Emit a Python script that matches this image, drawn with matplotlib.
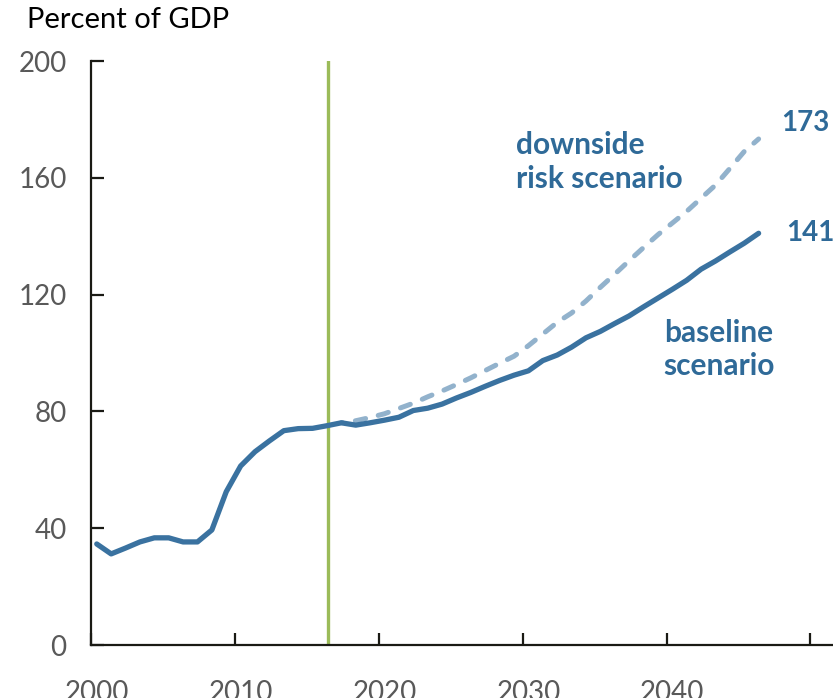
import matplotlib
matplotlib.use("Agg")
import matplotlib.pyplot as plt
import numpy as np

years_base = list(range(2000, 2047))
baseline = [34.6, 31.2, 33.2, 35.3, 36.7, 36.7, 35.3, 35.3, 39.4, 52.5,
            61.3, 66.2, 69.9, 73.4, 74.1, 74.2, 75.1, 76.1, 75.3, 76.1,
            77.0, 78.0, 80.3, 81.1, 82.5, 84.6, 86.5, 88.6, 90.6, 92.4,
            93.9, 97.4, 99.3, 102.0, 105.2, 107.4, 110.1, 112.7, 115.8, 118.8,
            121.8, 124.9, 128.7, 131.5, 134.6, 137.6, 141.0]

years_down = list(range(2017, 2047))
downside = [76.1, 76.8, 77.9, 79.2, 81.0, 82.8, 85.0, 87.0, 89.2, 91.5,
            94.0, 96.5, 98.9, 102.5, 106.5, 110.5, 113.7, 117.8, 122.5, 127.0,
            131.6, 136.1, 140.5, 144.5, 148.5, 153.0, 157.5, 163.2, 169.0, 173.3]

tick_years = [2000, 2010, 2020, 2030, 2040]
y_ticks = [0, 40, 80, 120, 160, 200]
projection_start = 2016.05

plt.rcParams['font.family'] = ['Lato', 'DejaVu Sans']

DPI = 100
fig = plt.figure(figsize=(8.33, 6.98), dpi=DPI)
ax = fig.add_axes([91/833, 53/698, (833-92)/833, 584/698])

c_base = '#3A72A0'
c_down = '#92B2CC'
c_green = '#9BBB59'
c_text = '#2F6A98'

ax.set_ylim(0, 200)
ax.set_xlim(1999.6, 2051.1)

# dash pattern arranged so that the dashed line ends on a dash
lw_down = 3.6
on, off = 2.1 * lw_down, 2.6 * lw_down
pts = ax.transData.transform(np.column_stack([years_down, downside]))
L = np.sum(np.hypot(*np.diff(pts, axis=0).T)) * 72 / DPI
period = on + off
offset = ((on * 0.6 - L) % period) / lw_down

ax.axvline(projection_start, color=c_green, lw=2.4, zorder=1)
ax.plot(years_down, downside, color=c_down, lw=lw_down, ls=(offset, (2.1, 2.6)),
        solid_capstyle='round', dash_capstyle='round', zorder=2)
ax.plot(years_base, baseline, color=c_base, lw=3.8, solid_capstyle='round', zorder=3)

ax.set_yticks(y_ticks)
ax.set_yticklabels([str(v) for v in y_ticks])
# tick marks at category boundaries, labels at years
ax.set_xticks([t - 0.4 for t in tick_years] + [2049.6])
ax.set_xticklabels([])
ax.set_xticks(tick_years, minor=True)
ax.set_xticklabels([str(t) for t in tick_years], minor=True)

for s in ['top', 'right']:
    ax.spines[s].set_visible(False)
for s in ['left', 'bottom']:
    ax.spines[s].set_color('#1a1a14')
    ax.spines[s].set_linewidth(1.6)

ax.tick_params(axis='y', direction='in', length=9, width=1.6, colors='#1a1a14',
               labelcolor='#595959', labelsize=20, pad=17.5)
ax.tick_params(axis='x', which='major', direction='in', length=9, width=1.6, colors='#1a1a14')
ax.tick_params(axis='x', which='minor', length=0, labelcolor='#595959', labelsize=20, pad=25)

fig.text(27/833, 1 - 20/698, 'Percent of GDP', fontsize=21, color='black', va='center', ha='left')

ax.text(2047.55, 178.8, '173', color=c_text, fontsize=20, fontweight='bold', va='center', ha='left')
ax.text(2047.9, 141.2, '141', color=c_text, fontsize=20, fontweight='bold', va='center', ha='left')
ax.text(2029.15, 165.3, 'downside\nrisk scenario', color=c_text, fontsize=21.5, fontweight='bold',
        va='center', ha='left', linespacing=1.25)
ax.text(2039.4, 101.2, 'baseline\nscenario', color=c_text, fontsize=21.5, fontweight='bold',
        va='center', ha='left', linespacing=1.25)

fig.savefig('out.png', dpi=DPI)
